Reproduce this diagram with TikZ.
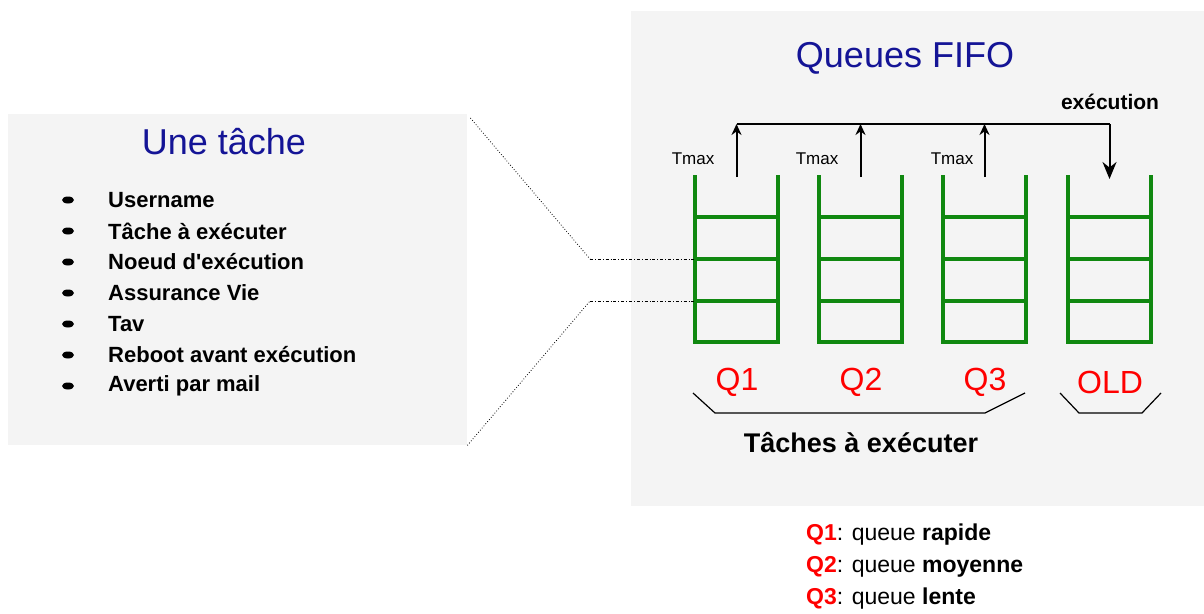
\documentclass[tikz,border=0pt]{standalone}
\usepackage{fontspec}
\setmainfont{Liberation Sans}
\usetikzlibrary{positioning,arrows.meta}

\definecolor{fondgris}{RGB}{244,244,244}
\definecolor{titrebleu}{RGB}{20,20,150}
\definecolor{vertq}{RGB}{16,136,16}
\definecolor{rougeq}{RGB}{255,0,0}

\begin{document}
\begin{tikzpicture}[x=1pt,y=-1pt,
  fond/.style={fill=fondgris, draw=none, anchor=north west, inner sep=0pt},
  titre/.style={font=\fontsize{36}{40}\selectfont, text=titrebleu},
  item/.style={font=\fontsize{22}{26}\selectfont\bfseries, anchor=west, inner sep=0pt},
  fifo/.style={draw=vertq, line width=4pt},
  petit/.style={font=\fontsize{17}{20}\selectfont},
  qlabel/.style={font=\fontsize{32}{36}\selectfont, text=rougeq},
  lien/.style={line width=0.8pt, dotted},
  fleche/.style={line width=2pt, -{Stealth[length=11pt,width=10pt]}},
  legende/.style={font=\fontsize{23}{27}\selectfont, anchor=west, inner sep=0pt}]
  \useasboundingbox (0,0) rectangle (1204,613);

  % les deux cadres
  \node[fond, minimum width=459pt, minimum height=331pt] (tache) at (8,114) {};
  \node[fond, minimum width=573pt, minimum height=495pt] (files) at (631,11) {};

  % une tache
  \node[titre] (titretache) at (224,142) {Une tâche};
  \foreach \txt [count=\i] in {Username, Tâche à exécuter, Noeud d\textquotesingle exécution,
      Assurance Vie, Tav, Reboot avant exécution, Averti par mail} {
    \fill (68,169+31*\i) ellipse (6pt and 3.5pt);
    \node[item] (item\i) at (108,169+31*\i) {\txt};
  }

  % queues FIFO
  \node[titre] (titrefifo) at (905,58) {Queues FIFO};
  \foreach \x/\n in {695/Q1, 819/Q2, 943/Q3, 1068/OLD} {
    \draw[fifo] (\x,175) -- (\x,342) -- (\x+83,342) -- (\x+83,175);
    \foreach \y in {217,259,301}
      \draw[fifo] (\x,\y) -- (\x+83,\y);
    \coordinate (haut\n) at (\x+41.5,177);
    \coordinate (ligne\n) at (\x+41.5,124);
    \node[qlabel] (lab\n) at (\x+42,382) {\n};
  }

  % Tmax et execution
  \node[petit] (tmax1) at (693,159) {Tmax};
  \node[petit] (tmax2) at (817,159) {Tmax};
  \node[petit] (tmax3) at (952,159) {Tmax};
  \draw[line width=2pt] (ligneQ1) -- (ligneOLD);
  \draw[fleche] (hautQ1) -- (ligneQ1);
  \draw[fleche] (hautQ2) -- (ligneQ2);
  \draw[fleche] (hautQ3) -- (ligneQ3);
  \draw[line width=2pt, -{Stealth[length=17pt,width=14pt]}] (ligneOLD) -- ([yshift=-2pt]hautOLD);
  \node[font=\fontsize{21}{24}\selectfont\bfseries] (exec) at (1110,102) {exécution};

  % accolades
  \coordinate (a1) at (693,393);
  \coordinate (a2) at (1025,393);
  \coordinate (b1) at (1060,393);
  \coordinate (b2) at (1161,393);
  \draw[line width=1.2pt] (a1) -- ++(22,20) -- ++(270,0) -- (a2);
  \draw[line width=1.2pt] (b1) -- ++(19,20) -- ++(63,0) -- (b2);
  \node[font=\fontsize{27}{30}\selectfont\bfseries] (atraiter) at (861,443) {Tâches à exécuter};

  % liens pointilles
  \coordinate (r1) at (695,259);
  \coordinate (r2) at (695,301);
  \draw[lien] ([xshift=3pt,yshift=-4pt]tache.north east) -- (590,259);
  \draw[line width=0.8pt, dash dot] (590,259) -- (r1);
  \draw[lien] (tache.south east) -- (590,301);
  \draw[line width=0.8pt, dash dot] (590,301) -- (r2);

  % legende
  \node[legende] (leg1) at (806,535) {\textcolor{rougeq}{\textbf{Q1}}: queue \textbf{rapide}};
  \node[legende] (leg2) at (806,567) {\textcolor{rougeq}{\textbf{Q2}}: queue \textbf{moyenne}};
  \node[legende] (leg3) at (806,599) {\textcolor{rougeq}{\textbf{Q3}}: queue \textbf{lente}};
\end{tikzpicture}
\end{document}
